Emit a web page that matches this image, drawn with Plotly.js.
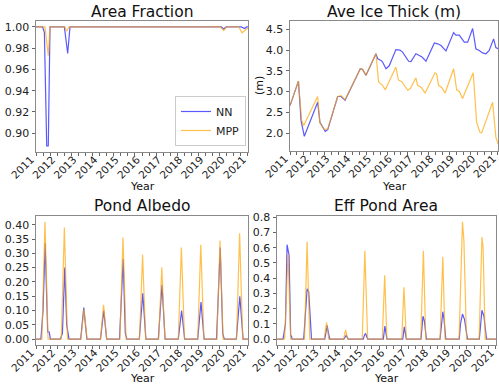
<!DOCTYPE html>
<html>
<head>
<meta charset="utf-8">
<script src="https://cdn.plot.ly/plotly-3.0.1.min.js"></script>
<style>html,body{margin:0;padding:0;background:#fff;}#chart{width:499px;height:387px;}</style>
</head>
<body>
<div id="chart"></div>
<script>
// ---------------- DATA ----------------
const yearLabels = ['2011','2012','2013','2014','2015','2016','2017','2018','2019','2020','2021'];
const seriesNames = ['NN', 'MPP'];

// Area Fraction
const afNNx = [2011.00,2011.34,2011.43,2011.55,2011.63,2011.72,2012.46,2012.63,2012.75,2015.56,2015.63,2015.70,2016.57,2016.64,2016.71,2017.57,2017.64,2017.71,2018.58,2018.65,2018.72,2019.58,2019.65,2019.72,2020.55,2020.67,2020.80,2021.58,2021.70,2021.75,2021.85,2021.92];
const afNNy = [1.000,1.000,0.995,0.888,0.888,1.000,1.000,0.975,1.000,1.000,0.9993,1.000,1.000,0.9993,1.000,1.000,0.9993,1.000,1.000,0.9993,1.000,1.000,0.9993,1.000,1.000,0.998,1.000,1.000,0.9985,0.9985,1.000,1.000];
const afMPPx = [2011.00,2011.46,2011.63,2011.72,2012.48,2012.58,2012.70,2020.50,2020.67,2020.82,2021.45,2021.61,2021.92];
const afMPPy = [1.000,1.000,0.973,1.000,1.000,0.996,1.000,1.000,0.9965,1.000,1.000,0.9945,0.999];

// Ave Ice Thick (m)
const itNNx = [2011.00,2011.44,2011.58,2011.75,2012.45,2012.57,2012.85,2012.98,2013.50,2013.68,2013.89,2014.69,2014.81,2014.99,2015.51,2015.60,2015.78,2015.86,2016.04,2016.21,2016.56,2016.77,2016.91,2017.23,2017.35,2017.61,2017.79,2017.93,2018.14,2018.58,2018.75,2018.93,2019.19,2019.59,2019.71,2019.89,2020.15,2020.33,2020.59,2020.76,2020.94,2021.11,2021.29,2021.46,2021.69,2021.81,2021.92];
const itNNy = [2.66,3.25,2.30,1.92,2.74,2.26,2.04,2.08,2.88,2.88,2.79,3.55,3.53,3.39,3.91,3.79,3.75,3.71,3.55,3.62,4.01,4.00,3.95,3.73,3.72,3.91,3.87,3.83,3.73,4.17,4.15,4.11,3.98,4.42,4.36,4.36,4.19,4.19,4.52,4.03,3.99,3.93,3.91,3.99,4.27,4.06,4.03];
const itMPPx = [2011.00,2011.44,2011.61,2011.72,2012.45,2012.57,2012.80,2012.98,2013.50,2013.68,2013.89,2014.69,2014.81,2014.99,2015.51,2015.65,2015.86,2016.00,2016.56,2016.69,2016.88,2017.18,2017.32,2017.61,2017.70,2017.91,2018.09,2018.61,2018.70,2018.80,2018.98,2019.14,2019.59,2019.75,2019.89,2020.06,2020.62,2020.80,2020.97,2021.06,2021.64,2021.81,2021.92];
const itMPPy = [2.66,3.25,2.30,2.18,2.88,2.24,2.08,2.10,2.88,2.90,2.80,3.55,3.54,3.39,3.91,3.23,3.15,3.04,3.59,3.28,3.23,3.03,3.07,3.33,3.15,3.09,2.96,3.45,3.42,3.15,3.09,2.96,3.55,3.04,3.00,2.83,3.45,2.26,2.02,2.00,2.74,1.90,1.74];

// Pond Albedo
const paNNx = [2011.00,2011.25,2011.36,2011.47,2011.60,2011.68,2011.74,2012.25,2012.36,2012.48,2012.58,2012.70,2013.30,2013.46,2013.62,2014.32,2014.49,2014.64,2015.30,2015.49,2015.60,2015.68,2016.32,2016.50,2016.66,2017.30,2017.49,2017.65,2018.33,2018.50,2018.66,2019.33,2019.50,2019.66,2020.30,2020.49,2020.62,2020.70,2021.32,2021.50,2021.67,2021.92];
const paNNy = [0,0,0.10,0.335,0.025,0.025,0,0,0.02,0.25,0.05,0,0,0.11,0,0,0.10,0,0,0.28,0.02,0,0,0.16,0,0,0.19,0,0,0.10,0,0,0.13,0,0,0.32,0.02,0,0,0.15,0,0];
const paMPPx = [2011.00,2011.30,2011.46,2011.62,2012.30,2012.46,2012.62,2013.31,2013.47,2013.63,2014.32,2014.48,2014.64,2015.32,2015.48,2015.64,2016.33,2016.49,2016.65,2017.32,2017.48,2017.64,2018.33,2018.49,2018.65,2019.33,2019.49,2019.65,2020.32,2020.48,2020.64,2021.33,2021.49,2021.65,2021.92];
const paMPPy = [0,0,0.41,0,0,0.39,0,0,0.105,0,0,0.12,0,0,0.355,0,0,0.295,0,0,0.25,0,0,0.32,0,0,0.33,0,0,0.345,0,0,0.37,0,0];

// Eff Pond Area
const epNNx = [2011.00,2011.30,2011.42,2011.50,2011.60,2011.68,2011.72,2011.75,2012.33,2012.50,2012.58,2012.72,2013.38,2013.50,2013.55,2013.63,2014.33,2014.45,2014.55,2015.30,2015.37,2015.42,2015.52,2016.30,2016.38,2016.48,2017.27,2017.35,2017.45,2018.18,2018.28,2018.35,2018.45,2019.13,2019.27,2019.32,2019.42,2020.09,2020.15,2020.25,2020.35,2020.50,2021.09,2021.22,2021.32,2021.45,2021.92];
const epNNy = [0,0,0.10,0.62,0.55,0.02,0.02,0,0,0.33,0.31,0,0,0.09,0.05,0,0,0.025,0,0,0.03,0.035,0,0,0.085,0,0,0.08,0,0,0.15,0.12,0,0,0.18,0.14,0,0,0.10,0.165,0.13,0,0,0.19,0.15,0,0];
const epMPPx = [2011.00,2011.38,2011.55,2011.68,2012.37,2012.50,2012.63,2013.35,2013.47,2013.58,2014.32,2014.42,2014.52,2015.25,2015.38,2015.52,2016.25,2016.37,2016.48,2017.22,2017.33,2017.45,2018.17,2018.30,2018.42,2019.13,2019.27,2019.38,2020.08,2020.25,2020.32,2020.45,2021.08,2021.22,2021.28,2021.38,2021.92];
const epMPPy = [0,0,0.56,0,0,0.64,0,0,0.11,0,0,0.06,0,0,0.58,0,0,0.42,0,0,0.34,0,0,0.58,0,0,0.54,0,0,0.77,0.65,0,0,0.67,0.60,0,0];

// ---------------- STYLE / LAYOUT ----------------
const W = 499, H = 387;
const FONT = 'DejaVu Sans, Liberation Sans, sans-serif';
const blue = 'rgba(0,0,255,0.65)';
const orange = 'rgba(255,165,0,0.7)';
const xr = [2011.0, 2021.92];
const nMinor = 30;
const tickvals = [], ticktext = [];
for (let i = 0; i <= nMinor; i++) {
  tickvals.push(+(xr[0] + (xr[1] - xr[0]) * i / nMinor).toFixed(4));
  ticktext.push(i % 3 === 0 ? yearLabels[i / 3] : '');
}
const xrange = [xr[0] - 0.002, xr[1] + 0.002];
function px2dx(a, b) { return [a / W, b / W]; }
function py2dy(top, bottom) { return [1 - bottom / H, 1 - top / H]; }

function xaxis(dom, anchor) {
  return {domain: dom, anchor: anchor, range: xrange, tickmode: 'array', tickvals: tickvals, ticktext: ticktext,
    tickangle: -45, ticks: 'outside', ticklen: 2.5, tickcolor: '#666', showline: true, mirror: true,
    linecolor: '#8a8a8a', linewidth: 1, showgrid: false, zeroline: false, automargin: false,
    ticklabelstandoff: -6, ticklabelshift: -5, ticklabeloverflow: 'allow',
    tickfont: {family: FONT, size: 10.5, color: '#222'}, fixedrange: true};
}
function yaxis(dom, anchor, range, dtick, fmt) {
  return {domain: dom, anchor: anchor, range: range, dtick: dtick, tick0: 0, tickformat: fmt, ticks: 'outside', ticklen: 3.5,
    tickcolor: '#666', showline: true, mirror: true, linecolor: '#8a8a8a', linewidth: 1, automargin: false,
    showgrid: false, zeroline: false, tickfont: {family: FONT, size: 11, color: '#222'}, fixedrange: true};
}

function tr(x, y, name, color, xa, ya, show) {
  return {x: x, y: y, name: name, type: 'scatter', mode: 'lines', xaxis: xa, yaxis: ya,
    line: {color: color, width: 1.2}, showlegend: show, legendgroup: name};
}

const data = [
  tr(afNNx, afNNy, seriesNames[0], blue, 'x', 'y', true),
  tr(afMPPx, afMPPy, seriesNames[1], orange, 'x', 'y', true),
  tr(itNNx, itNNy, seriesNames[0], blue, 'x2', 'y2', false),
  tr(itMPPx, itMPPy, seriesNames[1], orange, 'x2', 'y2', false),
  tr(paNNx, paNNy, seriesNames[0], blue, 'x3', 'y3', false),
  tr(paMPPx, paMPPy, seriesNames[1], orange, 'x3', 'y3', false),
  tr(epNNx, epNNy, seriesNames[0], blue, 'x4', 'y4', false),
  tr(epMPPx, epMPPy, seriesNames[1], orange, 'x4', 'y4', false)
];

function ann(text, x, y, size, extra) {
  return Object.assign({text: text, x: x / W, y: 1 - y / H, xref: 'paper', yref: 'paper',
    showarrow: false, xanchor: 'center', yanchor: 'middle', font: {family: FONT, size: size, color: '#111'}}, extra || {});
}

const layout = {
  width: W, height: H, margin: {l: 0, r: 0, t: 0, b: 0}, paper_bgcolor: '#fff', plot_bgcolor: '#fff',
  showlegend: true,
  legend: {x: 246 / W, y: 1 - 146 / H, xanchor: 'right', yanchor: 'bottom', bgcolor: 'rgba(255,255,255,0.9)',
    bordercolor: '#cccccc', borderwidth: 1, font: {family: FONT, size: 11, color: '#222'}, itemwidth: 30,
    tracegroupgap: 0},
  xaxis: xaxis(px2dx(36, 248), 'y'), yaxis: yaxis(py2dy(21, 152), 'x', [0.8823, 1.0056], 0.02, '.2f'),
  xaxis2: xaxis(px2dx(290, 498), 'y2'), yaxis2: yaxis(py2dy(21, 151), 'x2', [1.566, 4.70], 0.5, '.1f'),
  xaxis3: xaxis(px2dx(36, 248), 'y3'), yaxis3: yaxis(py2dy(216, 345), 'x3', [-0.0205, 0.4305], 0.05, '.2f'),
  xaxis4: xaxis(px2dx(277, 496), 'y4'), yaxis4: yaxis(py2dy(216, 345), 'x4', [-0.0385, 0.8085], 0.1, '.1f'),
  annotations: [
    ann('Area Fraction', 142, 12, 15.5),
    ann('Ave Ice Thick (m)', 394, 12, 15.5),
    ann('Pond Albedo', 142, 206, 15.5),
    ann('Eff Pond Area', 386, 206, 15.5),
    ann('Year', 142, 186, 11),
    ann('Year', 394, 186, 11),
    ann('Year', 142, 378, 11),
    ann('Year', 386, 378, 11),
    ann('(m)', 259, 86, 11, {textangle: -90})
  ]
};

Plotly.newPlot('chart', data, layout, {displayModeBar: false, staticPlot: true});
</script>
</body>
</html>
